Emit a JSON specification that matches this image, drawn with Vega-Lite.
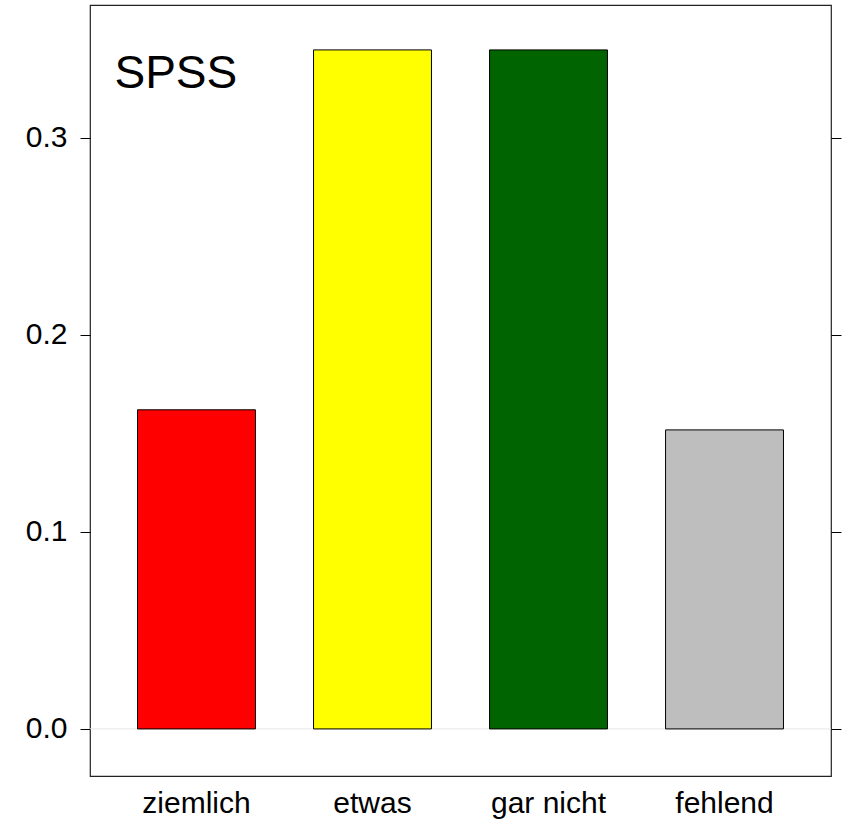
{
  "$schema": "https://vega.github.io/schema/vega-lite/v6.json",
  "width": 741,
  "height": 771,
  "autosize": {"type": "none"},
  "padding": {"left": 90, "top": 5, "right": 12, "bottom": 43},
  "config": {
    "view": {"stroke": "#222222", "strokeWidth": 1.2},
    "font": "Liberation Sans",
    "axis": {"grid": false, "labelFont": "Liberation Sans", "labelFontSize": 30, "labelColor": "black", "tickColor": "black", "domain": false, "title": null}
  },
  "datasets": {
    "bars": [
      {"kategorie": "ziemlich", "anteil": 0.162, "farbe": "#FF0000"},
      {"kategorie": "etwas", "anteil": 0.3447, "farbe": "#FFFF00"},
      {"kategorie": "gar nicht", "anteil": 0.3447, "farbe": "#006400"},
      {"kategorie": "fehlend", "anteil": 0.1518, "farbe": "#BEBEBE"}
    ]
  },
  "layer": [
    {
      "data": {"values": [{"ref": 0}]},
      "mark": {"type": "rule", "color": "#E6E6E6", "strokeWidth": 1},
      "encoding": {
        "y": {"field": "ref", "type": "quantitative", "scale": {"domain": [-0.0239, 0.3675], "nice": false, "zero": false},
          "axis": {"orient": "left", "values": [0, 0.1, 0.2, 0.3], "format": ".1f", "tickSize": 10, "labelFontSize": 30, "labelPadding": 13, "title": null}}
      }
    },
    {
      "data": {"name": "bars"},
      "mark": {"type": "bar", "stroke": "black", "strokeWidth": 1},
      "encoding": {
        "x": {"field": "kategorie", "type": "nominal", "sort": ["ziemlich", "etwas", "gar nicht", "fehlend"],
          "scale": {"paddingInner": 0.33, "paddingOuter": 0.27},
          "axis": {"title": null, "ticks": false, "labelAngle": 0, "labelFontSize": 30, "labelPadding": 12}},
        "y": {"field": "anteil", "type": "quantitative",
          "axis": {"orient": "right", "values": [0, 0.1, 0.2, 0.3], "tickSize": 10, "labels": false, "title": null}},
        "fill": {"field": "farbe", "type": "nominal", "scale": null, "legend": null}
      }
    },
    {
      "data": {"values": [{"label": "SPSS", "kategorie": "ziemlich", "pos": 0.3254}]},
      "mark": {"type": "text", "fontSize": 46, "align": "left", "baseline": "alphabetic", "dx": -82, "color": "black", "font": "Liberation Sans"},
      "encoding": {
        "x": {"field": "kategorie", "type": "nominal", "sort": ["ziemlich", "etwas", "gar nicht", "fehlend"]},
        "y": {"field": "pos", "type": "quantitative", "axis": null},
        "text": {"field": "label"}
      }
    }
  ],
  "resolve": {"scale": {"y": "shared"}, "axis": {"y": "independent"}}
}
